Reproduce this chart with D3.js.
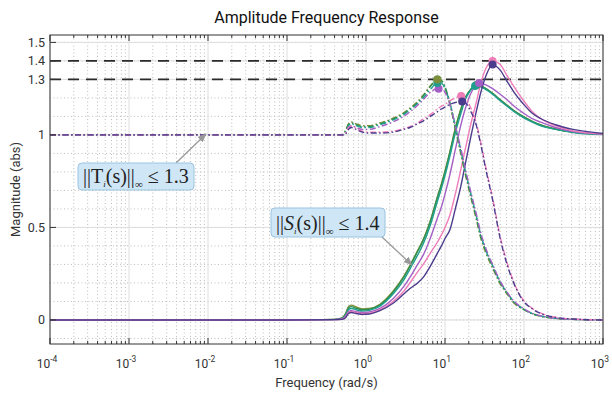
<!DOCTYPE html>
<html>
<head>
<meta charset="utf-8">
<script src="https://cdn.jsdelivr.net/npm/d3@7"></script>
<style>
  body { margin: 0; background: #fff; }
  text { font-family: Roboto, "Noto Sans", sans-serif; }
  text.math { font-family: "Liberation Serif", "DejaVu Serif", serif; }
</style>
</head>
<body>
<script>
const svgW = 612;
const svgH = 393;
const plot = { left: 50, right: 603, top: 35, bottom: 344 };

// 频率点 (rad/s)
const freq = [1e-4, 0.1, 0.4, 0.5, 0.55, 0.6, 0.65, 0.75, 0.9, 1.1, 1.5, 2.2, 3, 3.6, 4.5, 5.3, 6.5, 8, 9, 10,
  11.6, 13.5, 16, 18, 21, 25, 28, 33, 40, 50, 61, 75, 97, 125, 160, 250, 417, 1000];

const seriesColors = ['#7d8f3a', '#2f8f4f', '#1f9e8e', '#a35fc4', '#f07cb8', '#4b3b8c'];

// |T(jw)|
const tA = [1, 1, 1, 1.0, 1.025, 1.06, 1.07, 1.06, 1.05, 1.05, 1.065, 1.09, 1.12, 1.145, 1.18, 1.215, 1.265, 1.30, 1.29, 1.25,
  1.16, 1.03, 0.89, 0.79, 0.67, 0.54, 0.45, 0.36, 0.28, 0.195, 0.14, 0.09, 0.058, 0.034, 0.02, 0.008, 0.003, 0];
const tB = [1, 1, 1, 1.0, 1.02, 1.055, 1.065, 1.055, 1.045, 1.045, 1.06, 1.085, 1.115, 1.14, 1.175, 1.21, 1.26, 1.30, 1.295, 1.26,
  1.17, 1.04, 0.9, 0.8, 0.68, 0.55, 0.46, 0.37, 0.29, 0.2, 0.145, 0.095, 0.06, 0.035, 0.022, 0.009, 0.003, 0];
const tC = [1, 1, 1, 1.0, 1.015, 1.05, 1.06, 1.05, 1.04, 1.04, 1.055, 1.08, 1.11, 1.135, 1.17, 1.2, 1.245, 1.28, 1.28, 1.25,
  1.17, 1.05, 0.91, 0.81, 0.69, 0.56, 0.47, 0.375, 0.295, 0.205, 0.148, 0.097, 0.062, 0.036, 0.022, 0.009, 0.003, 0];
const tD = [1, 1, 1, 1.0, 1.01, 1.04, 1.05, 1.04, 1.03, 1.03, 1.045, 1.07, 1.1, 1.125, 1.16, 1.19, 1.23, 1.25, 1.25, 1.23,
  1.16, 1.05, 0.92, 0.82, 0.7, 0.57, 0.48, 0.385, 0.3, 0.21, 0.15, 0.1, 0.064, 0.037, 0.023, 0.009, 0.003, 0];
const tE = [1, 1, 1, 1.0, 1.01, 1.04, 1.045, 1.035, 1.02, 1.015, 1.015, 1.02, 1.035, 1.045, 1.065, 1.085, 1.11, 1.14, 1.155, 1.165,
  1.185, 1.2, 1.21, 1.2, 1.15, 1.06, 0.97, 0.82, 0.66, 0.45, 0.31, 0.2, 0.11, 0.065, 0.038, 0.015, 0.005, 0];
const tF = [1, 1, 1, 1.0, 1.005, 1.03, 1.04, 1.03, 1.015, 1.01, 1.01, 1.015, 1.03, 1.04, 1.06, 1.075, 1.1, 1.125, 1.14, 1.15,
  1.165, 1.175, 1.18, 1.175, 1.13, 1.05, 0.96, 0.81, 0.65, 0.44, 0.3, 0.195, 0.105, 0.062, 0.036, 0.014, 0.005, 0];

// |S(jw)|
const sA = [0, 0, 0.003, 0.012, 0.035, 0.072, 0.08, 0.07, 0.06, 0.062, 0.085, 0.155, 0.235, 0.295, 0.375, 0.435, 0.535, 0.665, 0.735, 0.805,
  0.915, 1.035, 1.145, 1.2, 1.245, 1.27, 1.265, 1.25, 1.225, 1.19, 1.16, 1.13, 1.1, 1.075, 1.055, 1.032, 1.015, 1.003];
const sB = [0, 0, 0.003, 0.01, 0.03, 0.065, 0.072, 0.063, 0.055, 0.058, 0.08, 0.15, 0.23, 0.29, 0.37, 0.43, 0.53, 0.66, 0.73, 0.8,
  0.91, 1.03, 1.14, 1.2, 1.245, 1.27, 1.265, 1.25, 1.225, 1.19, 1.16, 1.13, 1.1, 1.075, 1.055, 1.032, 1.015, 1.003];
const sC = [0, 0, 0.002, 0.008, 0.025, 0.055, 0.062, 0.055, 0.048, 0.052, 0.075, 0.14, 0.215, 0.275, 0.35, 0.41, 0.51, 0.64, 0.71, 0.78,
  0.89, 1.01, 1.12, 1.19, 1.24, 1.265, 1.26, 1.245, 1.22, 1.185, 1.155, 1.125, 1.095, 1.07, 1.05, 1.03, 1.013, 1.002];
const sD = [0, 0, 0.002, 0.006, 0.02, 0.045, 0.05, 0.045, 0.04, 0.043, 0.062, 0.115, 0.18, 0.23, 0.3, 0.35, 0.44, 0.55, 0.61, 0.68,
  0.79, 0.92, 1.06, 1.14, 1.22, 1.27, 1.28, 1.27, 1.25, 1.22, 1.19, 1.155, 1.12, 1.09, 1.07, 1.04, 1.018, 1.004];
const sE = [0, 0, 0.002, 0.005, 0.015, 0.04, 0.045, 0.04, 0.035, 0.037, 0.055, 0.1, 0.155, 0.2, 0.26, 0.3, 0.36, 0.42, 0.46, 0.5,
  0.57, 0.68, 0.82, 0.92, 1.05, 1.18, 1.27, 1.36, 1.40, 1.38, 1.32, 1.26, 1.19, 1.13, 1.09, 1.05, 1.022, 1.005];
const sF = [0, 0, 0.002, 0.004, 0.012, 0.035, 0.04, 0.035, 0.03, 0.032, 0.05, 0.09, 0.14, 0.17, 0.2, 0.23, 0.29, 0.36, 0.4, 0.44,
  0.49, 0.6, 0.73, 0.84, 0.98, 1.13, 1.22, 1.32, 1.38, 1.35, 1.29, 1.23, 1.17, 1.12, 1.09, 1.055, 1.03, 1.008];

const tCurves = [tA, tB, tC, tD, tE, tF];
const sCurves = [sA, sB, sC, sD, sE, sF];

// 峰值标记 [频率, 幅值, 颜色序号]
const peakMarks = [
  [25, 1.27, 1], [24, 1.265, 2], [27, 1.28, 3], [40, 1.40, 4], [40, 1.38, 5],
  [8, 1.30, 1], [8.3, 1.25, 3], [8, 1.28, 2], [8, 1.30, 0], [16, 1.21, 4], [16.5, 1.18, 5]
];

const boundValues = [1.3, 1.4];
const yTickValues = [0, 0.5, 1, 1.3, 1.4, 1.5];
const yTickLabels = ['0', '0.5', '1', '1.3', '1.4', '1.5'];
const xDecades = [-4, -3, -2, -1, 0, 1, 2, 3];

const svg = d3.select('body')
  .append('svg')
  .attr('width', svgW)
  .attr('height', svgH);

const x = d3.scaleLog().domain([1e-4, 1e3]).range([plot.left, plot.right]);
const y = d3.scaleLinear().domain([-0.13, 1.54]).range([plot.bottom, plot.top]);

svg.append('clipPath').attr('id', 'clip')
  .append('rect')
  .attr('x', plot.left).attr('y', plot.top)
  .attr('width', plot.right - plot.left).attr('height', plot.bottom - plot.top);

// 网格
const minorX = [];
xDecades.slice(0, -1).forEach(p => {
  for (let k = 2; k <= 9; k++) minorX.push(k * Math.pow(10, p));
});
const grid = svg.append('g');
grid.selectAll('.vminor').data(minorX).enter().append('line')
  .attr('x1', d => x(d)).attr('x2', d => x(d))
  .attr('y1', plot.top).attr('y2', plot.bottom)
  .attr('stroke', '#bdbdbd').attr('stroke-dasharray', '1,2.5');
const minorY = d3.range(-1, 16).map(i => i / 10);
grid.selectAll('.hminor').data(minorY).enter().append('line')
  .attr('x1', plot.left).attr('x2', plot.right)
  .attr('y1', d => y(d)).attr('y2', d => y(d))
  .attr('stroke', '#bdbdbd').attr('stroke-dasharray', '1,2.5');
grid.selectAll('.vmajor').data(xDecades).enter().append('line')
  .attr('x1', d => x(Math.pow(10, d))).attr('x2', d => x(Math.pow(10, d)))
  .attr('y1', plot.top).attr('y2', plot.bottom)
  .attr('stroke', '#dedede');
grid.selectAll('.hmajor').data(yTickValues).enter().append('line')
  .attr('x1', plot.left).attr('x2', plot.right)
  .attr('y1', d => y(d)).attr('y2', d => y(d))
  .attr('stroke', '#dedede');

// 约束线
svg.append('g').selectAll('line').data(boundValues).enter().append('line')
  .attr('x1', plot.left).attr('x2', plot.right)
  .attr('y1', d => y(d)).attr('y2', d => y(d))
  .attr('stroke', '#2b2b2b').attr('stroke-width', 1.6)
  .attr('stroke-dasharray', '11,7');

// 曲线
const line = d3.line()
  .x((d, i) => x(freq[i]))
  .y(d => y(d))
  .curve(d3.curveMonotoneX);
const curves = svg.append('g').attr('clip-path', 'url(#clip)');
curves.selectAll('.s').data(sCurves).enter().append('path')
  .attr('d', line)
  .attr('fill', 'none')
  .attr('stroke', (d, i) => seriesColors[i])
  .attr('stroke-width', 1.4);
curves.selectAll('.t').data(tCurves).enter().append('path')
  .attr('d', line)
  .attr('fill', 'none')
  .attr('stroke', (d, i) => seriesColors[i])
  .attr('stroke-width', 1.4)
  .attr('stroke-dasharray', '6,2.5,1.5,2.5');
curves.selectAll('circle').data(peakMarks).enter().append('circle')
  .attr('cx', d => x(d[0])).attr('cy', d => y(d[1]))
  .attr('r', 4)
  .attr('fill', d => seriesColors[d[2]]);

// 坐标框与刻度
svg.append('rect')
  .attr('x', plot.left).attr('y', plot.top)
  .attr('width', plot.right - plot.left).attr('height', plot.bottom - plot.top)
  .attr('fill', 'none').attr('stroke', '#333').attr('stroke-width', 1);
const ticks = svg.append('g').attr('stroke', '#333');
[plot.top, plot.bottom].forEach(edge => {
  const dir = edge === plot.top ? 1 : -1;
  ticks.selectAll(null).data(minorX).enter().append('line')
    .attr('x1', d => x(d)).attr('x2', d => x(d))
    .attr('y1', edge).attr('y2', edge + dir * 3);
  ticks.selectAll(null).data(xDecades).enter().append('line')
    .attr('x1', d => x(Math.pow(10, d))).attr('x2', d => x(Math.pow(10, d)))
    .attr('y1', edge).attr('y2', edge + dir * 6);
});
ticks.selectAll(null).data(yTickValues).enter().append('line')
  .attr('x1', plot.left).attr('x2', plot.left + 6)
  .attr('y1', d => y(d)).attr('y2', d => y(d));

const xLabels = svg.append('g').selectAll('text').data(xDecades).enter().append('text')
  .attr('x', d => x(Math.pow(10, d)) - 3)
  .attr('y', 368)
  .attr('text-anchor', 'middle')
  .attr('font-size', 12)
  .attr('fill', '#333');
xLabels.append('tspan').text('10');
xLabels.append('tspan').attr('dy', -6).attr('font-size', 8.5).text(d => d);

svg.append('g').selectAll('text').data(yTickValues).enter().append('text')
  .attr('x', 45)
  .attr('y', d => y(d) + 4.5)
  .attr('text-anchor', 'end')
  .attr('font-size', 12.5)
  .attr('fill', '#333')
  .text((d, i) => yTickLabels[i]);

svg.append('text')
  .attr('x', (plot.left + plot.right) / 2).attr('y', 23)
  .attr('text-anchor', 'middle')
  .attr('font-size', 16).attr('fill', '#111')
  .text('Amplitude Frequency Response');
svg.append('text')
  .attr('x', (plot.left + plot.right) / 2).attr('y', 387)
  .attr('text-anchor', 'middle')
  .attr('font-size', 13).attr('fill', '#333')
  .text('Frequency (rad/s)');
svg.append('text')
  .attr('transform', `translate(20, ${(plot.top + plot.bottom) / 2}) rotate(-90)`)
  .attr('text-anchor', 'middle')
  .attr('font-size', 13).attr('fill', '#333')
  .text('Magnitude (abs)');

// 标注
svg.append('defs').append('marker')
  .attr('id', 'arrow').attr('viewBox', '0 0 10 10')
  .attr('refX', 9).attr('refY', 5)
  .attr('markerWidth', 7).attr('markerHeight', 7)
  .attr('orient', 'auto')
  .append('path').attr('d', 'M0,1 L10,5 L0,9 Z').attr('fill', '#999');

function note(bx, by, bw, bh, letter, italic, bound, ax, ay) {
  svg.append('line')
    .attr('x1', ax[0]).attr('y1', ax[1]).attr('x2', ay[0]).attr('y2', ay[1])
    .attr('stroke', '#999').attr('stroke-width', 1.3)
    .attr('marker-end', 'url(#arrow)');
  svg.append('rect')
    .attr('x', bx).attr('y', by).attr('width', bw).attr('height', bh)
    .attr('rx', 4)
    .attr('fill', '#cfe6f6').attr('stroke', '#9ac4e0');
  const t = svg.append('text')
    .attr('class', 'math')
    .attr('x', bx + 5).attr('y', by + bh - 7.5)
    .attr('font-size', 20).attr('fill', '#222');
  t.append('tspan').text('||');
  t.append('tspan').attr('font-style', italic ? 'italic' : 'normal').text(letter);
  t.append('tspan').attr('dy', 4).attr('font-size', 9).attr('font-style', 'italic').text('i');
  t.append('tspan').attr('dy', -4).text('(s)||');
  t.append('tspan').attr('dy', 5).attr('font-size', 11).text('∞');
  t.append('tspan').attr('dy', -5).text(' ≤ 1.' + bound.slice(2));
}
note(78, 163, 116, 27, 'T', false, '1.3', [176, 163], [206, 134]);
note(271, 208, 114, 29, 'S', true, '1.4', [382, 237], [412, 265]);
</script>
</body>
</html>
